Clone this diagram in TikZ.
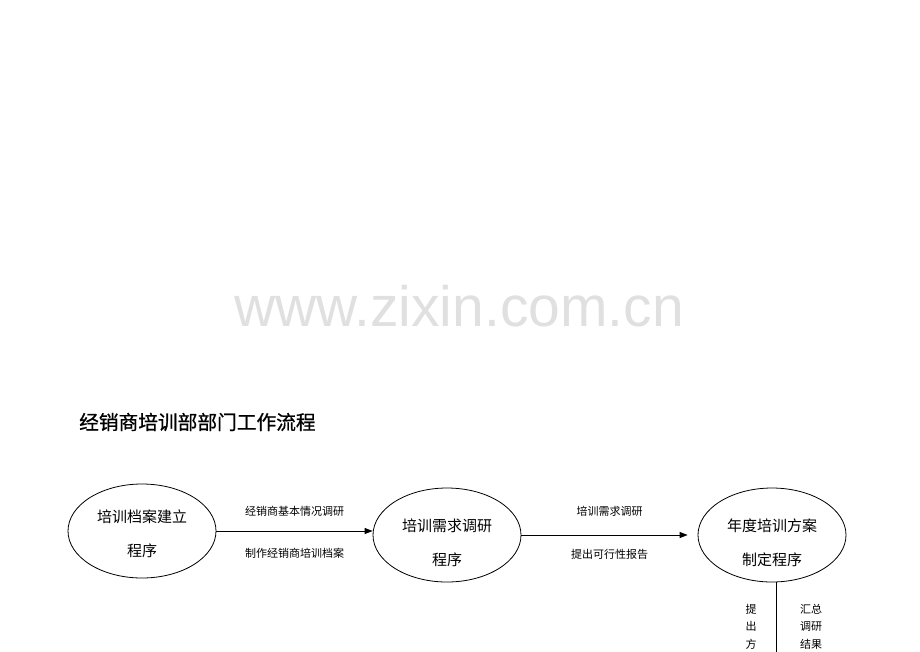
\documentclass[tikz,border=0pt]{standalone}
\usepackage{fontspec}
\setmainfont{Liberation Sans}
\newfontfamily\cjk{Noto Sans CJK SC}
\newfontfamily\cjkhead[FakeBold=0.8]{Noto Sans CJK SC}
\usetikzlibrary{shapes.geometric,arrows.meta,positioning}

\begin{document}
\begin{tikzpicture}[x=1pt,y=-1pt,
  proc/.style={ellipse, draw, line width=0.8pt, minimum width=148pt, minimum height=94pt, inner sep=0pt, align=center, font=\cjk\fontsize{15}{34}\selectfont},
  flow/.style={line width=0.8pt, -{Triangle[length=8pt,width=6pt]}},
  lab/.style={font=\cjk\fontsize{11}{13}\selectfont},
  vlab/.style={font=\cjk\fontsize{11}{17.5}\selectfont, align=center, anchor=north, inner sep=0pt}]
\useasboundingbox (0,0) rectangle (920,651);
% watermark and title
\node[text=black!12, font=\fontsize{57}{60}\selectfont] (mark) at (459,306) {www.zixin.com.cn};
\node[anchor=west, inner sep=0pt, font=\cjkhead\fontsize{19.7}{22}\selectfont] (title) at (79,422) {经销商培训部部门工作流程};
% the three procedures
\node[proc, text height=52pt] (archive) at (142,531) {培训档案建立\\程序};
\node[proc, text height=62pt] (survey) at (447,535) {培训需求调研\\程序};
\node[proc, text height=62pt] (plan) at (772,535) {年度培训方案\\制定程序};
% flows between them
\draw[flow] (archive.east) -- (survey.west |- archive.east)
  node[lab, midway, above=11pt] (basics) {经销商基本情况调研}
  node[lab, midway, below=13pt] (files) {制作经销商培训档案};
\draw[flow, shorten >=10pt] (survey.east) -- (plan.west)
  node[lab, midway, above=15pt] (needs) {培训需求调研}
  node[lab, midway, below=11pt] (report) {提出可行性报告};
% line down from the plan
\coordinate (foot) at (776,660);
\draw[line width=0.8pt] (plan.south -| foot) -- (foot);
\node[vlab] (propose) at (751,604) {提\\出\\方};
\node[vlab] (summary) at (811,604) {汇总\\调研\\结果};
\end{tikzpicture}
\end{document}
